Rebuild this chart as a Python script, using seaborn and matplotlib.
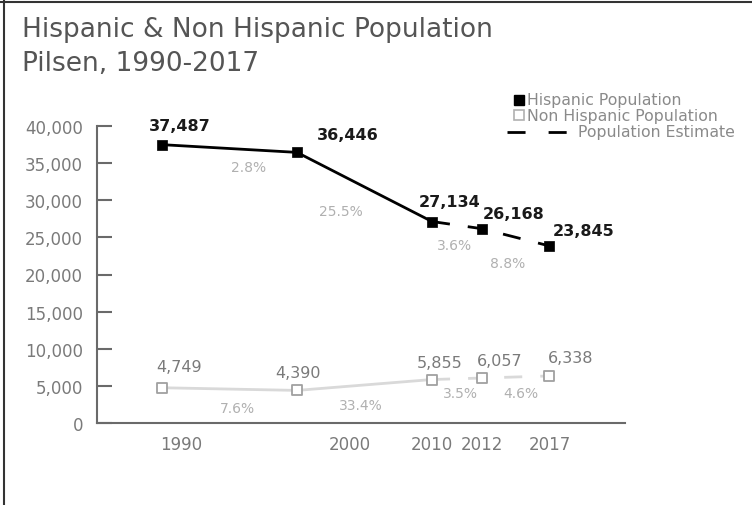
import matplotlib
matplotlib.use("Agg")
import matplotlib.pyplot as plt
from matplotlib.lines import Line2D
import seaborn as sns
import pandas as pd

# ---- data ----
years = ["1990", "2000", "2010", "2012", "2017"]
hispanic = [37487, 36446, 27134, 26168, 23845]
non_hispanic = [4749, 4390, 5855, 6057, 6338]
hispanic_change = ["2.8%", "25.5%", "3.6%", "8.8%"]
non_hispanic_change = ["7.6%", "33.4%", "3.5%", "4.6%"]
y_ticks = [0, 5000, 10000, 15000, 20000, 25000, 30000, 35000, 40000]

# horizontal slot of each year along the axis (uneven spacing)
slot = [0.0, 1.0, 2.0, 2.37, 2.87]
# where each year label sits under the axis
label_slot = [0.14, 1.39, 2.0, 2.37, 2.87]

sns.set_theme(style="white")
plt.rcParams["font.family"] = ["DejaVu Sans"]

GRAY_TXT = "#7a7a7a"
AXIS = "#6a6a6a"
LIGHT = "#d9d9d9"
PCT = "#b0b0b0"

W, H = 752, 506
fig = plt.figure(figsize=(W / 100, H / 100), dpi=100)
fig.patch.set_facecolor("white")

left, right, top, bottom = 97, 625, 127, 424
ax = fig.add_axes([left / W, 1 - bottom / H, (right - left) / W, (bottom - top) / H])
ax.set_facecolor("white")

df = pd.DataFrame({"x": slot, "year": years, "hisp": hispanic, "nonhisp": non_hispanic})
census = df.iloc[:3]
estimate = df.iloc[2:]

# Non Hispanic series: light line, open gray squares
sns.lineplot(data=census, x="x", y="nonhisp", ax=ax, color=LIGHT, lw=2, zorder=2)
sns.lineplot(data=estimate, x="x", y="nonhisp", ax=ax, color=LIGHT, lw=2, zorder=2)
ax.lines[-1].set_dashes((6.5, 6.5))
sns.scatterplot(data=df, x="x", y="nonhisp", ax=ax, marker="s", s=55,
                facecolor="white", edgecolor="#a0a0a0", linewidth=1.3, zorder=3)

# Hispanic series: black line, filled squares
sns.lineplot(data=census, x="x", y="hisp", ax=ax, color="black", lw=2, zorder=4)
sns.lineplot(data=estimate, x="x", y="hisp", ax=ax, color="black", lw=2, zorder=4)
ax.lines[-1].set_dashes((6.5, 6.5))
sns.scatterplot(data=df, x="x", y="hisp", ax=ax, marker="s", s=60,
                color="black", edgecolor="black", linewidth=0.5, zorder=5)

# value labels (offsets in pixels -> points)
px = 0.72
h_off = [(18, 19), (51, 18), (18, 20), (32, 15), (34, 15)]
for xi, v, (dx, dy) in zip(slot, hispanic, h_off):
    ax.annotate(f"{v:,}", (xi, v), xytext=(dx * px, dy * px), textcoords="offset points",
                ha="center", va="center", fontsize=11.5, fontweight="bold", color="#1a1a1a")
n_off = [(17, 21), (1, 18), (8, 17), (18, 18), (21, 18)]
for xi, v, (dx, dy) in zip(slot, non_hispanic, n_off):
    ax.annotate(f"{v:,}", (xi, v), xytext=(dx * px, dy * px), textcoords="offset points",
                ha="center", va="center", fontsize=11.5, color=GRAY_TXT)

# percent change labels, placed relative to each segment's midpoint
h_pct_off = [(19, -18), (-24, -24), (-2, -20), (-8, -26)]
n_pct_off = [(8, -19), (-4, -20), (3, -14), (5, -16)]
for i in range(4):
    xm = (slot[i] + slot[i + 1]) / 2
    ym = (hispanic[i] + hispanic[i + 1]) / 2
    dx, dy = h_pct_off[i]
    ax.annotate(hispanic_change[i], (xm, ym), xytext=(dx * px, dy * px), textcoords="offset points",
                ha="center", va="center", fontsize=10, color=PCT)
    ym = (non_hispanic[i] + non_hispanic[i + 1]) / 2
    dx, dy = n_pct_off[i]
    ax.annotate(non_hispanic_change[i], (xm, ym), xytext=(dx * px, dy * px), textcoords="offset points",
                ha="center", va="center", fontsize=10, color=PCT)

# axes
x0 = -65 / 135
x1 = (right - 162) / 135
ax.set_xlim(x0, x1)
ax.set_ylim(0, 40000)
ax.set_yticks(y_ticks)
ax.set_yticklabels([f"{t:,}" for t in y_ticks])
ax.xaxis.remove_overlapping_locs = False
ax.set_xticks(slot + [x1])
ax.set_xticklabels([""] * (len(slot) + 1))
ax.set_xticks(label_slot, minor=True)
ax.set_xticklabels(years, minor=True)
ax.tick_params(axis="x", which="major", direction="in", length=4, width=1.3, color=AXIS)
ax.tick_params(axis="x", which="minor", length=0, pad=9, labelsize=12, labelcolor=GRAY_TXT)
ax.tick_params(axis="y", direction="in", length=11, width=1.5, color=AXIS,
               pad=10, labelsize=12, labelcolor=GRAY_TXT, left=True)
ax.set_xlabel("")
ax.set_ylabel("")
for s in ["top", "right"]:
    ax.spines[s].set_visible(False)
for s in ["left", "bottom"]:
    ax.spines[s].set_color(AXIS)
    ax.spines[s].set_linewidth(1.5)

# title
fig.text(22 / W, 1 - 37 / H, "Hispanic & Non Hispanic Population", fontsize=19,
         color="#555555", ha="left", va="baseline")
fig.text(22 / W, 1 - 71 / H, "Pilsen, 1990-2017", fontsize=19,
         color="#555555", ha="left", va="baseline")

# legend, drawn by hand in figure pixels
def fx(x):
    return x / W

def fy(y):
    return 1 - y / H

LEG_FS = 11.3
LEG_TXT = "#8a8a8a"
fig.add_artist(Line2D([fx(519)], [fy(101)], marker="s", ms=6.5, color="black", ls="none"))
fig.text(fx(527), fy(101), "Hispanic Population", fontsize=LEG_FS, color=LEG_TXT, va="center")
fig.add_artist(Line2D([fx(519)], [fy(116)], marker="s", ms=6.5, mfc="white",
                      mec="#b0b0b0", mew=1.2, ls="none"))
fig.text(fx(527), fy(116), "Non Hispanic Population", fontsize=LEG_FS, color=LEG_TXT, va="center")
fig.add_artist(Line2D([fx(507), fx(567)], [fy(133), fy(133)], color="black", lw=2,
                      dashes=(6.5, 8.3)))
fig.text(fx(578), fy(133), "Population Estimate", fontsize=LEG_FS, color=LEG_TXT, va="center")

# frame lines along the top and left edges
fig.add_artist(Line2D([0, 1], [fy(3), fy(3)], color="#333333", lw=1.5))
fig.add_artist(Line2D([fx(4), fx(4)], [0, 1], color="#333333", lw=1.5))

fig.savefig("out.png", dpi=100, facecolor="white")
